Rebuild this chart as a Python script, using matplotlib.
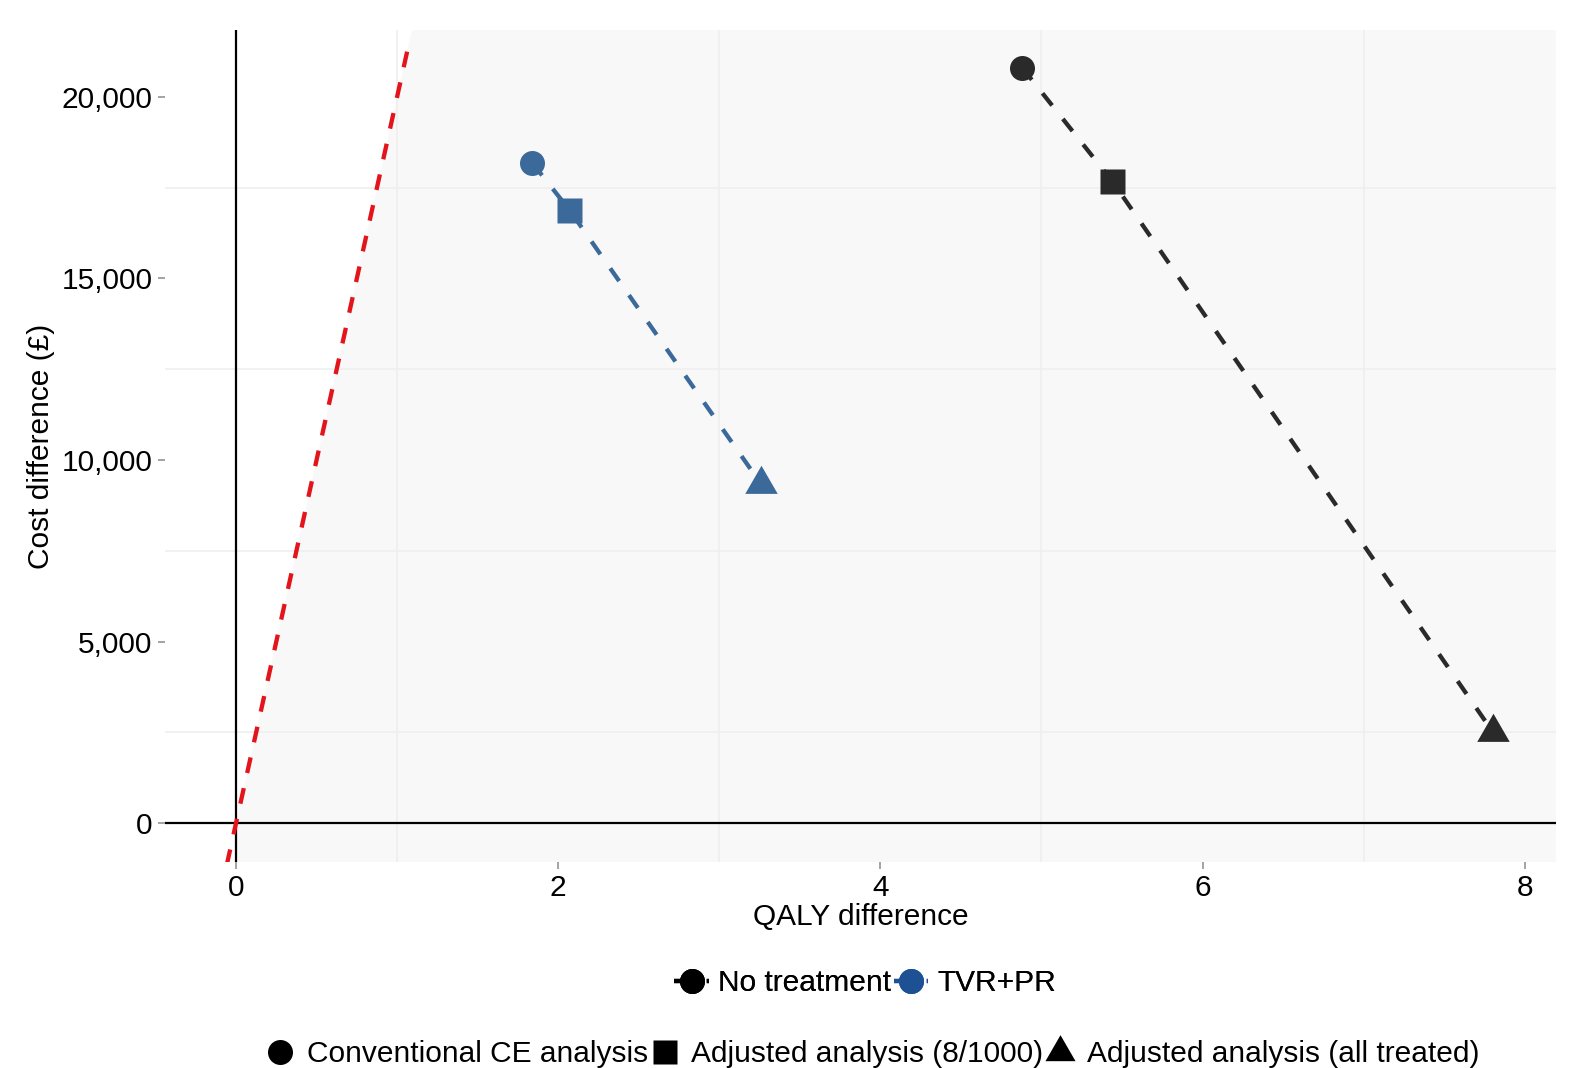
import numpy as np
import matplotlib
matplotlib.use("Agg")
import matplotlib.pyplot as plt
from matplotlib.lines import Line2D
from matplotlib.ticker import FuncFormatter, MultipleLocator

plt.rcParams['font.family'] = ['Liberation Sans', 'DejaVu Sans']

# data
analyses = ['Conventional CE analysis', 'Adjusted analysis (8/1000)', 'Adjusted analysis (all treated)']
comparators = ['No treatment', 'TVR+PR']
qaly_no_treatment = [4.88, 5.44, 7.80]
cost_no_treatment = [20800, 17670, 2520]
qaly_tvr_pr = [1.84, 2.07, 3.26]
cost_tvr_pr = [18170, 16880, 9330]
wtp_threshold = 20000      # GBP per QALY
wtp_line_qaly = [-0.1, 1.075]

x_ticks = [0, 2, 4, 6, 8]
y_ticks = [0, 5000, 10000, 15000, 20000]

COLORS = {'No treatment': '#2a2a2a', 'TVR+PR': '#3b6999'}
LEGEND_COLORS = {'No treatment': '#000000', 'TVR+PR': '#1d5194'}
MARKERS = ['o', 's', (3, 0, 0)]
MSIZES = [18, 18, 27]
FS = 21.5


def main():
    fig = plt.figure(figsize=(15.74, 10.68), dpi=100)
    ax = fig.add_axes([165 / 1574, 1 - 862 / 1068, 1391 / 1574, 832 / 1068])
    ax.set_xlim(-0.441, 8.194)
    ax.set_ylim(-1071, 21837)
    ax.set_facecolor('white')

    # light grey region below the threshold line, right of x=0
    xs = np.array([0, 30000 / wtp_threshold, 10])
    ax.fill_between(xs, -5000, np.minimum(wtp_threshold * xs, 30000),
                    color='#f8f8f8', lw=0, zorder=0)

    # minor grid only (majors blend in)
    ax.xaxis.set_minor_locator(MultipleLocator(1))
    ax.yaxis.set_minor_locator(MultipleLocator(2500))
    ax.set_xticks(x_ticks)
    ax.set_yticks(y_ticks)
    ax.grid(which='minor', color='#eeeeee', lw=1.1, zorder=0.5)
    ax.grid(which='major', visible=False)
    ax.tick_params(which='minor', length=0)
    ax.tick_params(which='major', length=5, width=1.1, color='#8a8a8a',
                   labelsize=FS, labelcolor='black', pad=4)
    ax.yaxis.set_major_formatter(FuncFormatter(lambda v, p: f'{int(v):,}'))
    for s in ax.spines.values():
        s.set_visible(False)

    ax.axhline(0, color='black', lw=1.6, zorder=2)
    ax.axvline(0, color='black', lw=1.6, zorder=2)

    wl = np.array(wtp_line_qaly)
    ax.plot(wl, wtp_threshold * wl, color='#e3141b', lw=3.1,
            linestyle=(0, (3.7, 3.6)), zorder=3)

    for name, qx, cy in [('No treatment', qaly_no_treatment, cost_no_treatment),
                         ('TVR+PR', qaly_tvr_pr, cost_tvr_pr)]:
        c = COLORS[name]
        ax.plot(qx, cy, color=c, lw=3.1, linestyle=(0, (3.6, 4.0)), zorder=4)
        for i in range(len(qx)):
            ax.plot(qx[i], cy[i], marker=MARKERS[i], ms=MSIZES[i], color=c,
                    mec='none', ls='none', zorder=4)

    ax.set_xlabel('QALY difference', fontsize=FS)
    ax.set_ylabel('Cost difference (£)', fontsize=FS)
    ax.xaxis.set_label_coords(0.5, -0.049)
    ax.yaxis.set_label_coords(-0.079, 0.5)

    h1 = [Line2D([0], [0], color=LEGEND_COLORS[n], lw=3.1, ls=(0, (3.6, 4.0)),
                 marker='o', ms=18, mec='none') for n in comparators]
    leg1 = fig.legend(h1, comparators, loc='center', ncol=2, frameon=False,
                      bbox_to_anchor=(865 / 1574, 1 - 983 / 1068), fontsize=FS,
                      handlelength=1.15, handletextpad=0.3, columnspacing=0.1,
                      borderaxespad=0)
    fig.add_artist(leg1)

    h2 = [Line2D([0], [0], color='black', ls='none', marker=MARKERS[i],
                 ms=[18, 17, 25][i], mec='none') for i in range(3)]
    fig.legend(h2, analyses, loc='center', ncol=3, frameon=False,
               bbox_to_anchor=(873 / 1574, 1 - 1054 / 1068), fontsize=FS,
               handlelength=0.9, handletextpad=0.45, columnspacing=0.1,
               borderaxespad=0)

    fig.savefig('out.png', dpi=100)


if __name__ == '__main__':
    main()
